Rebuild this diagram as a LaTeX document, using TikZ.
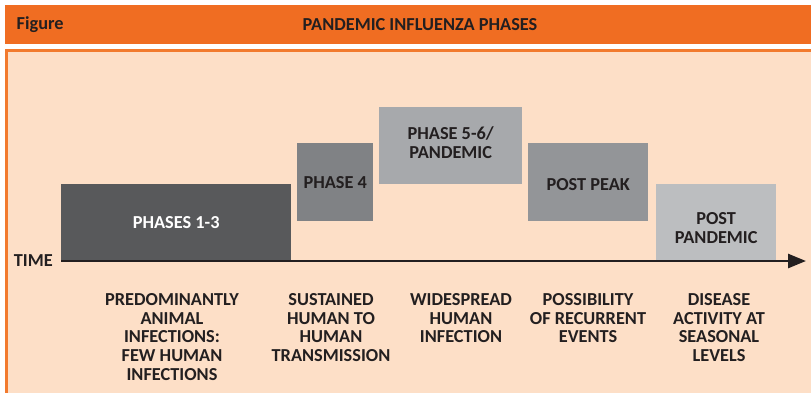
\documentclass[tikz,border=0pt]{standalone}
\usepackage{fontspec}
\setmainfont{Carlito}
\usetikzlibrary{arrows.meta}
\definecolor{hdrorange}{HTML}{F06D22}
\definecolor{panelborder}{HTML}{F27A2E}
\definecolor{panelfill}{HTML}{FDDFC7}
\definecolor{inkdark}{HTML}{231F20}
\definecolor{gA}{HTML}{58595B}
\definecolor{gB}{HTML}{808285}
\definecolor{gC}{HTML}{A7A9AC}
\definecolor{gD}{HTML}{939598}
\definecolor{gE}{HTML}{BCBEC0}
\tikzset{
  phasebox/.style={draw=none, inner sep=0pt, anchor=north west, align=center,
    text=inkdark, font=\bfseries\fontsize{18.3}{19}\selectfont},
  desc/.style={inner sep=0pt, anchor=north, align=center, text=inkdark,
    font=\bfseries\fontsize{18.3}{18.6}\selectfont},
  lbl/.style={inner sep=0pt, text=inkdark, font=\bfseries\fontsize{18.3}{19}\selectfont},
  axisline/.style={draw=inkdark, line width=2.6pt, -{Triangle[length=18pt, width=14pt]}},
}
\begin{document}
\begin{tikzpicture}[x=1pt, y=-1pt]
\useasboundingbox (0,0) rectangle (811,392);
\fill[white] (0,0) rectangle (811,392);
% header
\node[fill=hdrorange, inner sep=0pt, minimum width=806pt, minimum height=39pt, anchor=north west] (hdr) at (5,5) {};
\node[lbl, anchor=west] (figlbl) at (16.5,25) {Figure};
\node[lbl] (title) at (420,25) {PANDEMIC INFLUENZA PHASES};
% panel
\fill[panelborder] (5,49) rectangle (815,396);
\fill[panelfill] (7.8,52) rectangle (815,396);
\coordinate (panel) at (7.8,52);
% phase boxes
\node[phasebox, fill=gA, text=white, minimum width=230pt, minimum height=76pt] (p13) at (61,184) {PHASES 1-3};
\node[phasebox, fill=gB, minimum width=76pt, minimum height=78pt] (p4) at (297,143) {PHASE 4};
\node[phasebox, fill=gC, minimum width=143pt, minimum height=77pt] (p56) at (379,107) {PHASE 5-6/\\PANDEMIC\\[-13pt]};
\node[phasebox, fill=gD, minimum width=120pt, minimum height=78pt] (ppk) at (528,143) {\rule{0pt}{6pt}\\[-8pt]POST PEAK};
\node[phasebox, fill=gE, minimum width=120pt, minimum height=76pt] (ppd) at (656,184) {\rule{0pt}{6pt}\\[-2pt]POST\\PANDEMIC};
% time axis
\node[lbl, anchor=east] (time) at (53,261) {TIME};
\coordinate (tstart) at (61,261);
\coordinate (tend) at (806,261);
\draw[axisline] (tstart) -- (tend);
% descriptions
\node[desc] (d1) at (172,293.5) {PREDOMINANTLY\\ANIMAL\\INFECTIONS:\\FEW HUMAN\\INFECTIONS};
\node[desc] (d2) at (331,293.5) {SUSTAINED\\HUMAN TO\\HUMAN\\TRANSMISSION};
\node[desc] (d3) at (461,293.5) {WIDESPREAD\\HUMAN\\INFECTION};
\node[desc] (d4) at (588,293.5) {POSSIBILITY\\OF RECURRENT\\EVENTS};
\node[desc] (d5) at (719,293.5) {DISEASE\\ACTIVITY AT\\SEASONAL\\LEVELS};
\end{tikzpicture}
\end{document}
